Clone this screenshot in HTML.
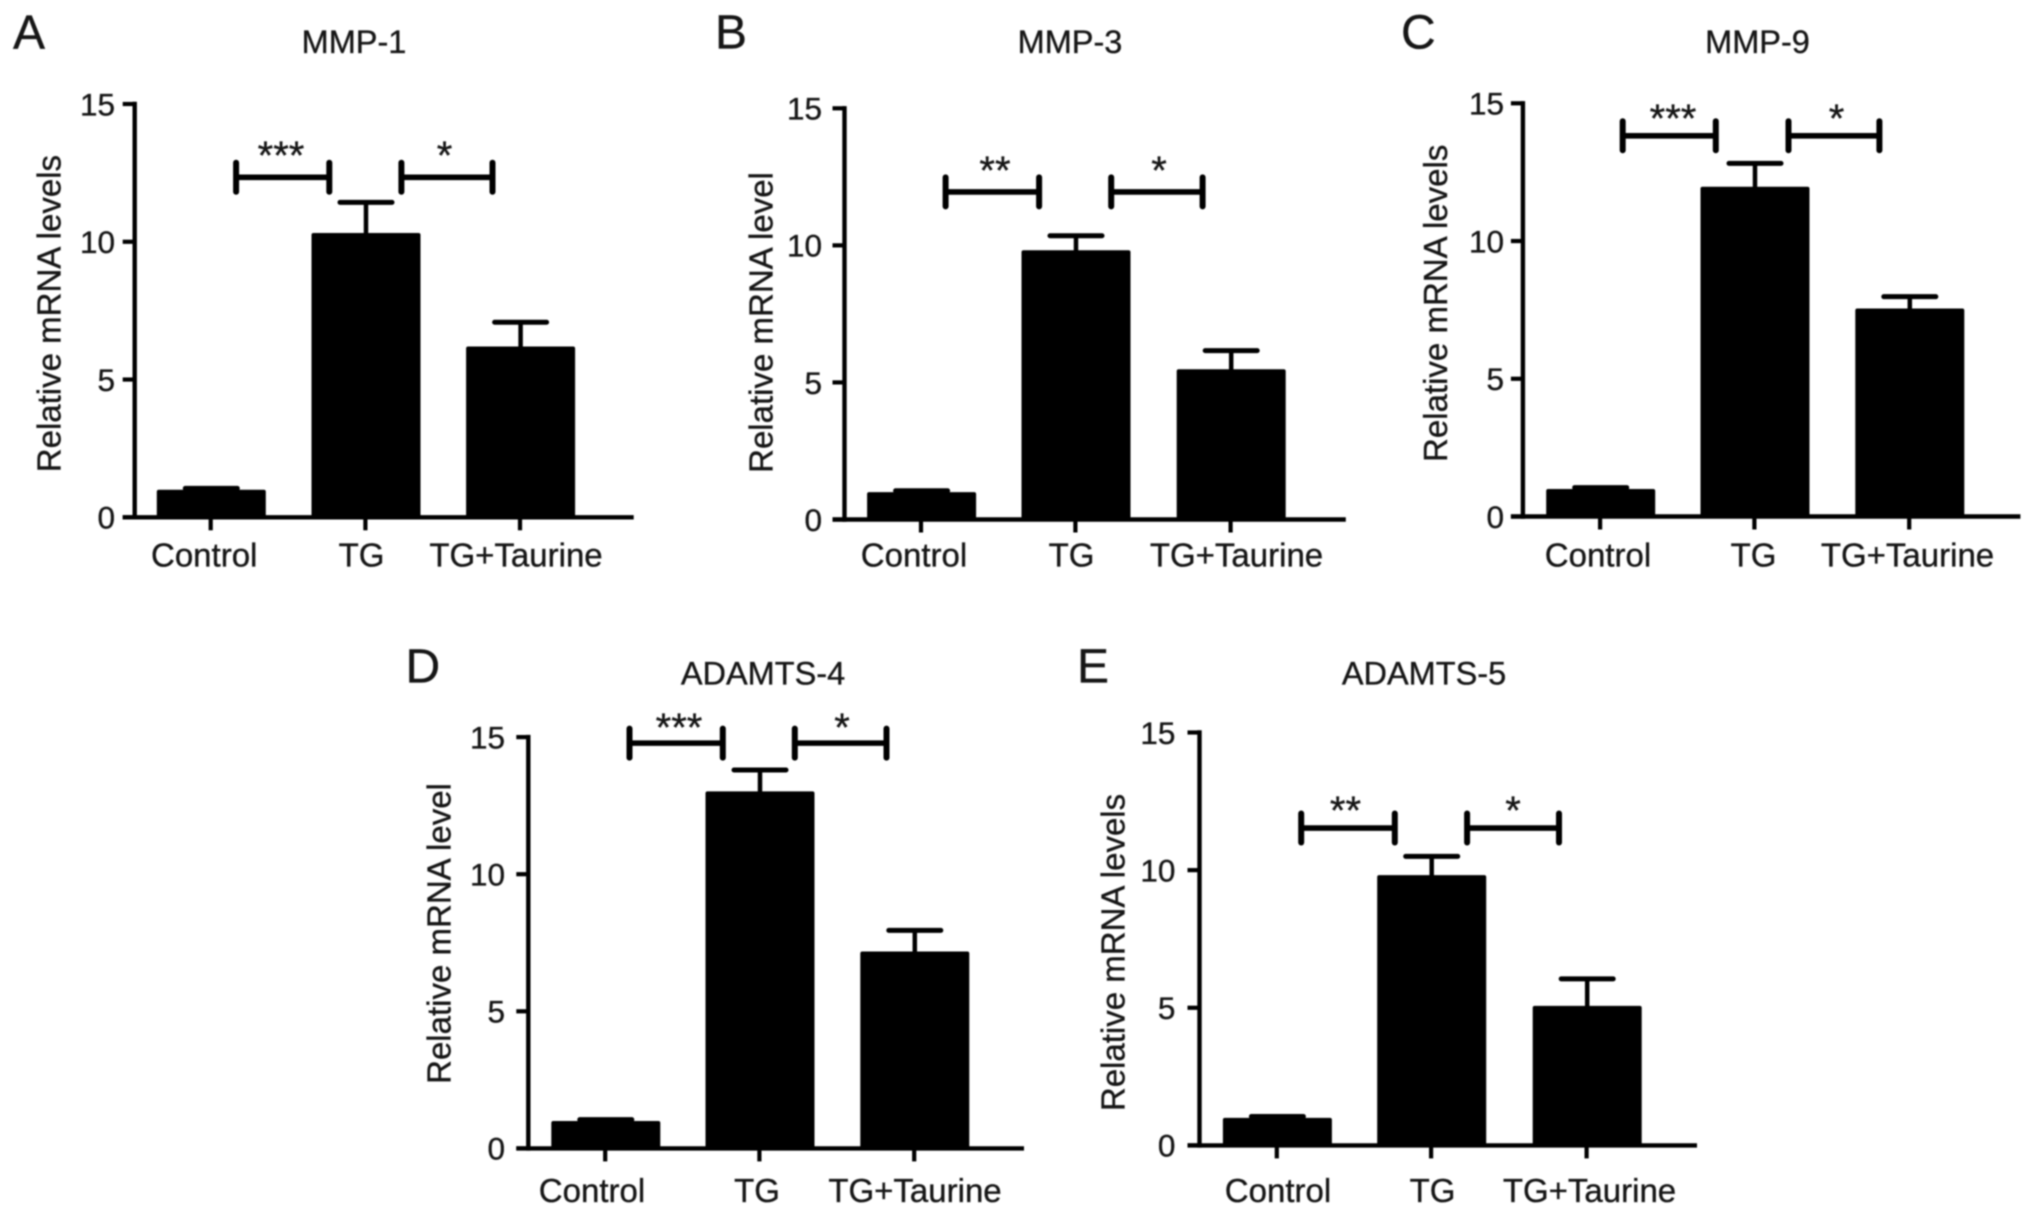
<!DOCTYPE html>
<html lang="en">
<head>
<meta charset="utf-8">
<title>Relative mRNA levels by treatment</title>
<style>
  html, body { margin: 0; padding: 0; background: #fff; }
  svg { display: block; }
  text { font-family: "Liberation Sans", Arial, sans-serif; fill: #141414; stroke: #141414; stroke-width: 0.35px; }
</style>
</head>
<body>
<svg id="figure" xmlns="http://www.w3.org/2000/svg" width="2032" height="1215" viewBox="0 0 2032 1215">
  <defs>
    <filter id="soft" x="-2%" y="-2%" width="104%" height="104%"><feGaussianBlur stdDeviation="0.9"/></filter>
  </defs>
  <rect width="2032" height="1215" fill="#ffffff"/>
  <g id="root" filter="url(#soft)"></g>
</svg>
<script>
// ---- Data ----
const categories = ['Control', 'TG', 'TG+Taurine'];
const yTickLabels = [0, 5, 10, 15];
const panelLetters = ['A', 'B', 'C', 'D', 'E'];
const panelTitles = ['MMP-1', 'MMP-3', 'MMP-9', 'ADAMTS-4', 'ADAMTS-5'];
const yAxisTitles = ['Relative mRNA levels', 'Relative mRNA level', 'Relative mRNA levels', 'Relative mRNA level', 'Relative mRNA levels'];
const controlValues = [1.0, 1.0, 1.0, 1.0, 1.0];
const tgValues = [10.32, 9.82, 11.97, 13.02, 9.82];
const taurineValues = [6.2, 5.48, 7.55, 7.18, 5.07];
const controlErrorTops = [1.05, 1.05, 1.05, 1.05, 1.05];
const tgErrorTops = [11.43, 10.35, 12.82, 13.8, 10.5];
const taurineErrorTops = [7.08, 6.16, 7.98, 7.95, 6.05];
const bracketLevels = [12.34, 11.95, 13.82, 14.78, 11.53];
const leftStars = ['***', '**', '***', '***', '**'];
const rightStars = ['*', '*', '*', '*', '*'];

// ---- Panel geometry (pixels) ----
const layouts = [
  { axisX: 134.7, y0: 517.3, y15: 104, xEnd: 633.7, bands: [211.3, 366, 520.6], catX: [204.2, 361.5, 516], catY: 554.5, tickRight: 115, titleX: 354, titleY: 41.5, letterX: 13, letterY: 31, yTitleX: 49, yTitleY: 313.6, br: [26.8, -35.5, 36.6, -27.3], starX: [281, 444.6], starY: 152 },
  { axisX: 844.5, y0: 519.5, y15: 108.3, xEnd: 1345.8, bands: [921.6, 1076, 1231.2], catX: [914, 1071.5, 1236.5], catY: 554.5, tickRight: 822, titleX: 1070, titleY: 41.5, letterX: 715, letterY: 31, yTitleX: 761, yTitleY: 322.5, br: [26, -35.7, 36.4, -27.8], starX: [995, 1159], starY: 167 },
  { axisX: 1522.9, y0: 516.5, y15: 103.3, xEnd: 2020.4, bands: [1600.7, 1755, 1909.8], catX: [1598, 1753.5, 1907.5], catY: 554.5, tickRight: 1504, titleX: 1757.5, titleY: 41.5, letterX: 1401, letterY: 31, yTitleX: 1435.5, yTitleY: 303.3, br: [24, -38, 34.7, -29.6], starX: [1673, 1836.5], starY: 115 },
  { axisX: 528.3, y0: 1148.4, y15: 737.1, xEnd: 1024, bands: [605.8, 760, 914.8], catX: [592, 757, 915], catY: 1190, tickRight: 505, titleX: 763, titleY: 673, letterX: 405.5, letterY: 665, yTitleX: 439, yTitleY: 933.5, br: [25.7, -36, 36, -27.5], starX: [679, 842], starY: 724 },
  { axisX: 1199.5, y0: 1145.4, y15: 732.5, xEnd: 1697, bands: [1277.4, 1431.7, 1587.2], catX: [1278, 1432.5, 1589.5], catY: 1190, tickRight: 1175.4, titleX: 1424, titleY: 673, letterX: 1077, letterY: 665, yTitleX: 1113, yTitleY: 952.5, br: [25.8, -35.7, 36.6, -27.4], starX: [1345.5, 1513], starY: 807 }
];

const NS = 'http://www.w3.org/2000/svg';
const BAR_W = 109, CAP_W = 52, AXIS_W = 4.4, TICK_L = 12, BR_H = 14.5;
const BR_SHIFT = -1.2;
const root = document.getElementById('root');

function svgEl(tag, attrs, parent) {
  const el = document.createElementNS(NS, tag);
  for (const k in attrs) el.setAttribute(k, attrs[k]);
  parent.appendChild(el);
  return el;
}
function line(x1, y1, x2, y2, w, parent, cap) {
  return svgEl('line', { x1, y1, x2, y2, stroke: '#000', 'stroke-width': w, 'stroke-linecap': cap || 'butt' }, parent);
}
function label(str, x, yCenter, size, anchor, parent) {
  const t = svgEl('text', { x, y: yCenter + size * 0.36, 'font-size': size, 'text-anchor': anchor }, parent);
  t.textContent = str;
  return t;
}

panelTitles.forEach(function (title, p) {
  const L = layouts[p];
  const yScale = function (v) { return L.y0 - (v / 15) * (L.y0 - L.y15); };
  const slug = title.toLowerCase();

  const g = svgEl('g', {}, root);
  
  

  const letter = label(panelLetters[p], L.letterX, L.letterY, 48, 'start', g);
  
  

  const titleEl = label(title, L.titleX, L.titleY, 32.5, 'middle', g);
  
  

  const yTitle = svgEl('text', { x: 0, y: 0, 'font-size': 33, 'text-anchor': 'middle', transform: 'translate(' + (L.yTitleX + 11.5) + ' ' + L.yTitleY + ') rotate(-90)' }, g);
  yTitle.textContent = yAxisTitles[p];
  
  

  // bars and error bars
  const vals = [controlValues[p], tgValues[p], taurineValues[p]];
  const errs = [controlErrorTops[p], tgErrorTops[p], taurineErrorTops[p]];
  categories.forEach(function (cat, i) {
    const cx = L.bands[i];
    const top = yScale(vals[i]);
    const errTop = yScale(errs[i]);

    const stem = line(cx, top + 2, cx, errTop, 4.5, g);
    
    

    const cap = line(cx - CAP_W / 2, errTop, cx + CAP_W / 2, errTop, 5, g, 'round');
    
    

    const bar = svgEl('rect', { x: cx - BAR_W / 2, y: top, width: BAR_W, height: L.y0 - top, rx: 2, fill: '#000' }, g);
    
    

    const xt = line(cx - 0.6, L.y0, cx - 0.6, L.y0 + TICK_L + 1, 4.2, g);
    
    

    const cl = label(cat, L.catX[i], L.catY, 33, 'middle', g);
    
    
  });

  // axes
  const yAxis = line(L.axisX, L.y15 - 2.2, L.axisX, L.y0 + 2.2, AXIS_W, g);
  
  

  const xAxis = line(L.axisX - TICK_L, L.y0, L.xEnd, L.y0, AXIS_W, g);
  
  

  yTickLabels.forEach(function (v) {
    const y = yScale(v);
    const yt = line(L.axisX - TICK_L, y, L.axisX, y, 4.2, g);
    
    

    const yl = label(String(v), L.tickRight, y, 31.5, 'end', g);
    
    
  });

  // significance brackets
  const by = yScale(bracketLevels[p]);
  const spans = [
    [L.bands[0] + L.br[0] + BR_SHIFT - 0.8, L.bands[1] + L.br[1] + BR_SHIFT, leftStars[p], L.starX[0]],
    [L.bands[1] + L.br[2] + BR_SHIFT, L.bands[2] + L.br[3] + BR_SHIFT + 0.4, rightStars[p], L.starX[1]]
  ];
  spans.forEach(function (s, k) {
    const b = svgEl('g', {}, g);
    
    
    line(s[0], by, s[1], by, 5.6, b);
    line(s[0], by - BR_H, s[0], by + BR_H, 6, b, 'round');
    line(s[1], by - BR_H, s[1], by + BR_H, 6, b, 'round');

    const star = svgEl('text', { x: s[3], y: L.starY + 17, 'font-size': 40, 'text-anchor': 'middle' }, g);
    star.textContent = s[2];
    
    
  });
});
</script>
</body>
</html>
